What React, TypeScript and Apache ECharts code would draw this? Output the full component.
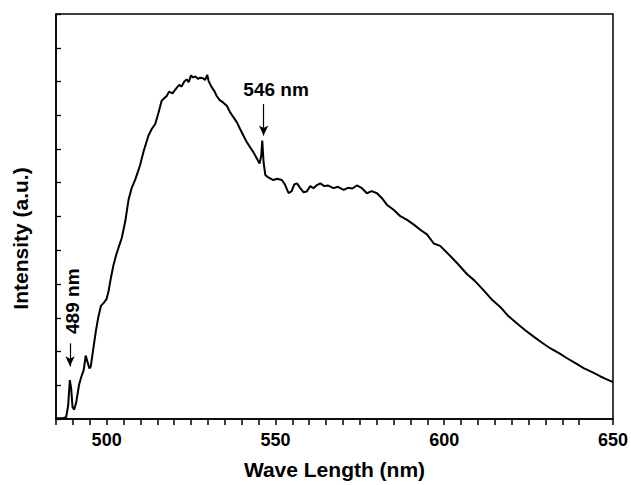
import React, { useEffect, useRef } from "react";
import * as echarts from "echarts";

const wavelengths: number[] = [
  485, 487, 488, 488.6, 489.1, 489.5, 489.9, 490.4, 491, 491.8, 492.5, 493.2, 493.8, 494.3, 494.9, 495.3,
  496, 496.8, 497.5, 498.3, 499.2, 500, 500.6, 501.2, 502, 502.8, 503.6, 504.5, 505.5, 506.5, 507.4, 508.5,
  509.9, 511, 512.4, 513.4, 514.4, 515.3, 516.3, 517, 517.8, 518.5, 519.5, 520.8, 521.5, 522.2, 523, 523.7,
  524.3, 525, 525.6, 526.3, 527, 527.7, 528.5, 529.2, 529.8, 530.2, 531, 532, 532.6, 533.5, 534.5, 535.6,
  536.5, 537.5, 538.6, 539.5, 540.5, 541.5, 542.5, 543.5, 544.5, 545.3, 545.8, 546.1, 546.5, 547, 548, 549.4,
  550.5, 551.9, 552.8, 553.9, 554.8, 555.6, 556.4, 557.3, 558.3, 559.3, 560.3, 561.3, 562.3, 563.3, 564.5, 565.5,
  567.2, 568.5, 570.2, 571.5, 572.8, 574.1, 575.5, 577.1, 578.5, 580.1, 581.5, 583, 585, 587, 589, 591,
  593, 594.9, 596.9, 598.8, 601.8, 604, 606.8, 609, 611.7, 614, 616.6, 619, 621.6, 624, 626.5, 629,
  631.5, 634, 636.4, 639, 641.3, 644, 646.3, 648, 650,
];

const intensity: number[] = [
  0.02, 0.02, 0.05, 0.4, 1.15, 0.9, 0.35, 0.28, 0.5, 1.0, 1.25, 1.45, 1.88, 1.7, 1.5, 1.55,
  2.05, 2.6, 3.0, 3.35, 3.45, 3.56, 3.8, 4.15, 4.55, 4.85, 5.1, 5.37, 5.85, 6.5, 6.84, 7.1,
  7.52, 7.95, 8.4, 8.6, 8.74, 9.05, 9.43, 9.5, 9.57, 9.7, 9.65, 9.82, 9.9, 9.85, 10.0, 10.06,
  9.98, 10.18, 10.12, 10.15, 10.08, 10.11, 10.1, 10.05, 10.2, 10.02, 9.85, 9.7, 9.57, 9.45, 9.38, 9.28,
  9.1, 8.95, 8.79, 8.6, 8.4, 8.21, 8.05, 7.9, 7.72, 7.57, 7.8, 8.25, 7.6, 7.23, 7.15, 7.08,
  7.12, 7.08, 6.95, 6.69, 6.75, 6.95, 6.98, 6.85, 6.72, 6.74, 6.9, 6.84, 6.93, 6.98, 6.9, 6.92,
  6.84, 6.88, 6.79, 6.85, 6.83, 6.92, 6.85, 6.69, 6.75, 6.69, 6.55, 6.35, 6.2, 6.01, 5.9, 5.76,
  5.6, 5.47, 5.2, 5.13, 4.83, 4.6, 4.29, 4.1, 3.81, 3.55, 3.32, 3.05, 2.83, 2.63, 2.44, 2.26,
  2.09, 1.95, 1.8, 1.65, 1.51, 1.38, 1.26, 1.18, 1.09,
];

const xTickLabels: number[] = [500, 550, 600, 650];

// annotation arrows: [x, yStart, yEnd]
const arrow546: number[] = [546.5, 9.33, 8.4];
const arrow489: number[] = [489.15, 2.24, 1.56];
const label546: (number | string)[] = [550.2, 9.77, "546 nm"];
const label489: (number | string)[] = [490.0, 3.49, "489 nm"];

const FONT = "'Liberation Sans', Arial, Helvetica, sans-serif";

export default function App() {
  const ref = useRef<HTMLDivElement>(null);

  useEffect(() => {
    if (!ref.current) return;
    const chart = echarts.init(ref.current, undefined, { renderer: "svg" });
    const data = wavelengths.map((w, i) => [w, intensity[i]]);
    chart.setOption({
      animation: false,
      backgroundColor: "#fff",
      grid: {
        left: 56,
        right: 18,
        top: 14,
        bottom: 62,
        show: true,
        borderColor: "#000",
        borderWidth: 1.5,
        containLabel: false,
      },
      xAxis: {
        type: "value",
        min: 485,
        max: 650,
        interval: 5,
        name: "Wave Length (nm)",
        nameLocation: "middle",
        nameGap: 40,
        nameTextStyle: { fontFamily: FONT, fontWeight: "bold", fontSize: 21, color: "#000" },
        axisLine: { show: true, onZero: false, lineStyle: { color: "#000", width: 1.5 } },
        axisTick: { show: true, inside: false, length: 6, lineStyle: { color: "#000", width: 1.5 } },
        splitLine: { show: false },
        axisLabel: {
          show: true,
          margin: 12,
          fontFamily: FONT,
          fontWeight: "bold",
          fontSize: 18,
          color: "#000",
          showMinLabel: true,
          showMaxLabel: true,
          formatter: (v: number) => (xTickLabels.includes(Math.round(v)) ? String(Math.round(v)) : " "),
        },
      },
      yAxis: {
        type: "value",
        min: 0,
        max: 12,
        interval: 1,
        name: "Intensity (a.u.)",
        nameLocation: "middle",
        nameGap: 25,
        nameRotate: 90,
        nameTextStyle: {
          fontFamily: FONT,
          fontWeight: "bold",
          fontSize: 21,
          color: "#000",
          padding: [0, 44, 0, 0],
        },
        axisLine: { show: true, lineStyle: { color: "#000", width: 1.5 } },
        axisTick: { show: true, inside: true, length: 5, lineStyle: { color: "#000", width: 1.3 } },
        axisLabel: { show: false },
        splitLine: { show: false },
      },
      series: [
        {
          type: "line",
          data,
          showSymbol: false,
          symbol: "none",
          lineStyle: { color: "#000", width: 2 },
          silent: true,
          markLine: {
            silent: true,
            symbol: ["none", "arrow"],
            symbolSize: [7, 10],
            label: { show: false },
            lineStyle: { color: "#000", width: 1.2, type: "solid" },
            data: [
              [{ coord: [arrow546[0], arrow546[1]] }, { coord: [arrow546[0], arrow546[2]] }],
              [{ coord: [arrow489[0], arrow489[1]] }, { coord: [arrow489[0], arrow489[2]] }],
            ],
          },
          markPoint: {
            silent: true,
            symbol: "rect",
            symbolSize: 1,
            itemStyle: { color: "rgba(0,0,0,0)" },
            data: [
              {
                coord: [label546[0], label546[1]],
                label: {
                  show: true,
                  position: "inside",
                  formatter: String(label546[2]),
                  fontFamily: FONT,
                  fontWeight: "bold",
                  fontSize: 19,
                  color: "#000",
                },
              },
              {
                coord: [label489[0], label489[1]],
                label: {
                  show: true,
                  position: "inside",
                  rotate: 90,
                  formatter: String(label489[2]),
                  fontFamily: FONT,
                  fontWeight: "bold",
                  fontSize: 19,
                  color: "#000",
                },
              },
            ],
          },
        },
      ],
    });
    return () => chart.dispose();
  }, []);

  return <div ref={ref} style={{ width: 631, height: 485, position: "absolute", left: 0, top: 0 }} />;
}
